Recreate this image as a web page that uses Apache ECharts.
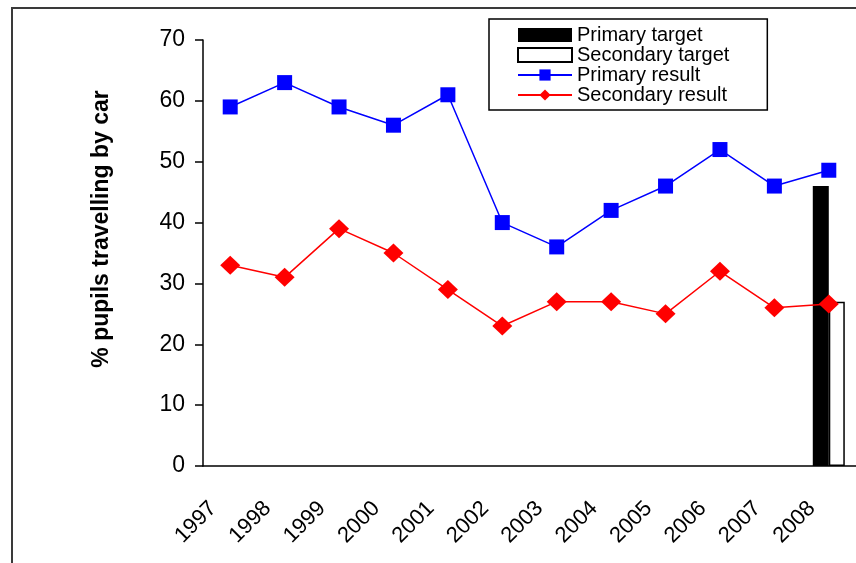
<!DOCTYPE html>
<html>
<head>
<meta charset="utf-8">
<script src="https://cdn.jsdelivr.net/npm/echarts@6/dist/echarts.min.js"></script>
<style>
  html, body { margin: 0; padding: 0; background: #fff; }
  #chart { width: 856px; height: 563px; }
</style>
</head>
<body>
<div id="chart"></div>
<script>
const years = ['1997', '1998', '1999', '2000', '2001', '2002', '2003', '2004', '2005', '2006', '2007', '2008']
const primaryResult = [59, 63, 59, 56, 61, 40, 36, 42, 46, 52, 46, 48.6]
const secondaryResult = [33, 31, 39, 35, 29, 23, 27, 27, 25, 32, 26, 26.6]
const primaryTarget = ['-', '-', '-', '-', '-', '-', '-', '-', '-', '-', '-', 46]
const secondaryTarget = ['-', '-', '-', '-', '-', '-', '-', '-', '-', '-', '-', 27]
const yTicks = { min: 0, max: 70, interval: 10 }

const chart = echarts.init(document.getElementById('chart'))
const font = 'Liberation Sans, Arial, sans-serif'

const options = {
    backgroundColor: '#fff',
    animation: false,
    textStyle: { fontFamily: font },
    graphic: [{
        type: 'rect',
        shape: { x: 12, y: 8, width: 900, height: 600 },
        style: { fill: 'none', stroke: '#3a3a3a', lineWidth: 2 }
    }],
    grid: { left: 203, top: 40, width: 655, height: 426 },
    legend: {
        orient: 'vertical',
        left: 489,
        top: 19,
        padding: [6, 38, 5, 28],
        itemGap: 0,
        itemWidth: 54,
        itemHeight: 14,
        borderColor: '#000',
        borderWidth: 1.5,
        backgroundColor: '#fff',
        textStyle: { fontSize: 20, color: '#000', lineHeight: 20, fontFamily: font },
        data: [
            { name: 'Primary target', icon: 'rect' },
            { name: 'Secondary target', icon: 'rect' },
            'Primary result',
            'Secondary result'
        ]
    },
    xAxis: {
        type: 'category',
        data: years,
        boundaryGap: true,
        axisLine: { lineStyle: { color: '#000', width: 1.5 } },
        axisTick: { length: 7, lineStyle: { color: '#000', width: 1.5 } },
        axisLabel: {
            rotate: 45,
            fontSize: 22,
            color: '#000',
            margin: 22,
            padding: [0, 24, 0, 0],
            interval: 0
        }
    },
    yAxis: {
        type: 'value',
        min: yTicks.min,
        max: yTicks.max,
        interval: yTicks.interval,
        name: '% pupils travelling by car',
        nameLocation: 'middle',
        nameGap: 90,
        nameTextStyle: { fontSize: 23, fontWeight: 'bold', color: '#000', padding: [0, 0, 0, 48] },
        splitLine: { show: false },
        axisLine: { show: true, lineStyle: { color: '#000', width: 1.5 } },
        axisTick: { show: true, length: 8, lineStyle: { color: '#000', width: 1.5 } },
        axisLabel: { fontSize: 23, color: '#000', margin: 18 }
    },
    series: [
        {
            name: 'Primary target',
            type: 'bar',
            data: primaryTarget,
            barWidth: 16,
            barGap: '0%',
            itemStyle: { color: '#000' },
            z: 1
        },
        {
            name: 'Secondary target',
            type: 'bar',
            data: secondaryTarget,
            barWidth: 16,
            itemStyle: { color: '#fff', borderColor: '#000', borderWidth: 1.5 },
            z: 1
        },
        {
            name: 'Primary result',
            type: 'line',
            data: primaryResult,
            symbol: 'rect',
            symbolSize: 15,
            color: '#0000ff',
            lineStyle: { color: '#0000ff', width: 1.5 },
            itemStyle: { color: '#0000ff' },
            z: 3
        },
        {
            name: 'Secondary result',
            type: 'line',
            data: secondaryResult,
            symbol: 'diamond',
            symbolSize: [20, 19],
            color: '#ff0000',
            lineStyle: { color: '#ff0000', width: 1.5 },
            itemStyle: { color: '#ff0000' },
            z: 3
        }
    ]
}
chart.setOption(options)
</script>
</body>
</html>
